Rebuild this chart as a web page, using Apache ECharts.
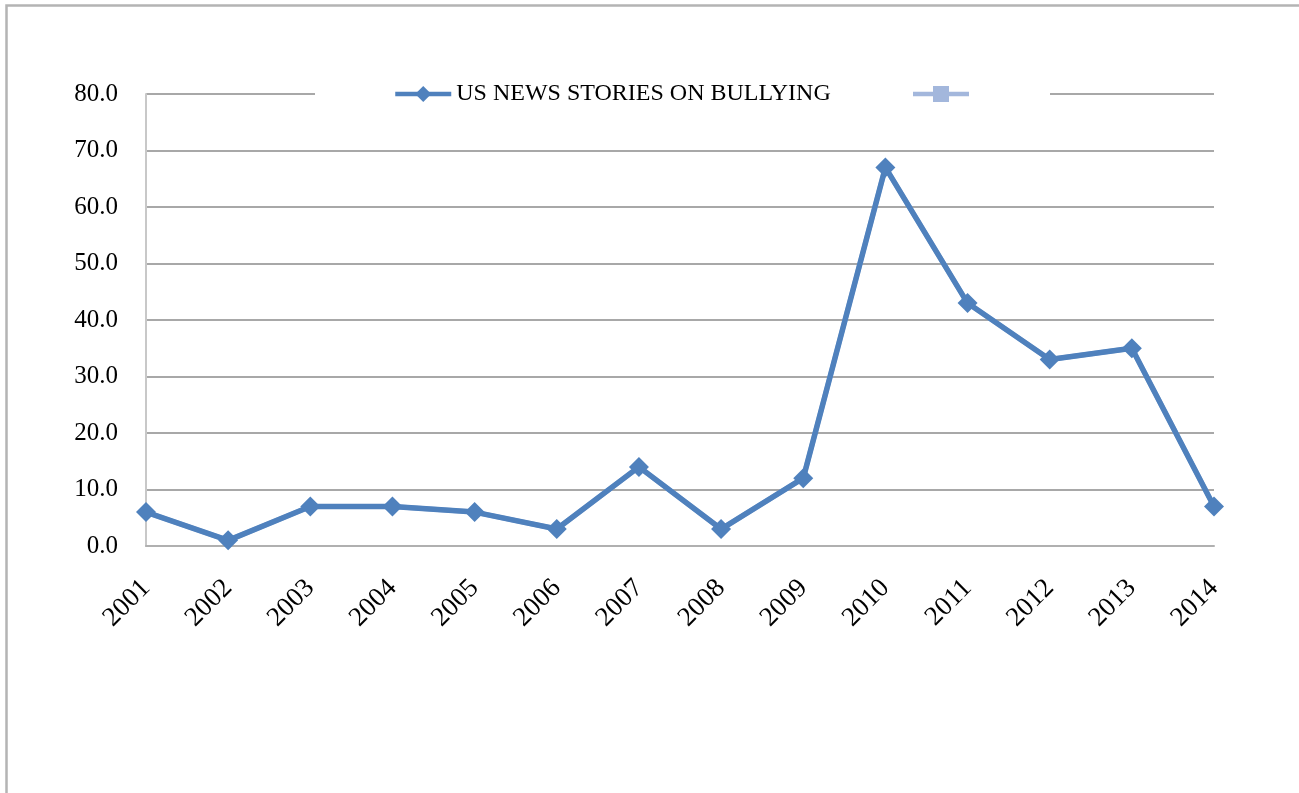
<!DOCTYPE html>
<html>
<head>
<meta charset="utf-8">
<script src="https://cdn.jsdelivr.net/npm/echarts@6/dist/echarts.min.js"></script>
<style>
html,body{margin:0;padding:0;background:#fff;}
#chart{width:1299px;height:793px;}
</style>
</head>
<body>
<div id="chart"></div>
<script>
const categories = ['2001','2002','2003','2004','2005','2006','2007','2008','2009','2010','2011','2012','2013','2014'];
const newsStories = [6, 1, 7, 7, 6, 3, 14, 3, 12, 67, 43, 33, 35, 7];
const secondSeries = [6, 1, 7, 7, 6, 3, 14, 3, 12, 67, 43, 33, 35, 7];
const seriesNames = ['US NEWS STORIES ON BULLYING', ' '];

const chart = echarts.init(document.getElementById('chart'));
const serif = '"Liberation Serif", "DejaVu Serif", serif';
chart.setOption({
  animation: false,
  backgroundColor: '#fff',
  graphic: [{
    type: 'rect',
    left: 4, top: 3,
    shape: {width: 1400, height: 1000},
    style: {fill: 'none', stroke: '#b4b4b4', lineWidth: 2.5},
    z: 0
  }],
  grid: {left: 146, right: 85, top: 94, bottom: 247, containLabel: false},
  legend: {
    left: 315, top: 94 - 22,
    backgroundColor: '#fff',
    padding: [10, 70, 10, 78],
    itemWidth: 56, itemHeight: 20,
    itemGap: 80,
    lineStyle: {width: 4.5},
    textStyle: {fontFamily: serif, fontSize: 24, color: '#000'},
    data: seriesNames,
    z: 10
  },
  xAxis: {
    type: 'category',
    data: categories,
    boundaryGap: false,
    axisLine: {show: true, lineStyle: {color: '#b0b0b0', width: 2}},
    axisTick: {show: false},
    axisLabel: {rotate: 45, margin: 38, fontFamily: serif, fontSize: 27, color: '#000'},
    splitLine: {show: false}
  },
  yAxis: {
    type: 'value',
    min: 0, max: 80, interval: 10,
    axisLine: {show: true, lineStyle: {color: '#c8c8c8', width: 2}},
    axisTick: {show: false},
    axisLabel: {margin: 28, fontFamily: serif, fontSize: 25, color: '#000',
      formatter: v => v.toFixed(1)},
    splitLine: {show: true, lineStyle: {color: '#a8a8a8', width: 2}}
  },
  series: [
    {
      name: seriesNames[1],
      type: 'line',
      data: secondSeries,
      symbol: 'rect',
      symbolSize: 8,
      color: '#a3b7dc',
      lineStyle: {width: 5, color: '#a3b7dc'},
      itemStyle: {color: '#a3b7dc'},
      z: 1
    },
    {
      name: seriesNames[0],
      type: 'line',
      data: newsStories,
      symbol: 'diamond',
      symbolSize: 20,
      color: '#4f81bd',
      lineStyle: {width: 5.5, color: '#4f81bd'},
      itemStyle: {color: '#4f81bd'},
      z: 3
    }
  ]
});
</script>
</body>
</html>
